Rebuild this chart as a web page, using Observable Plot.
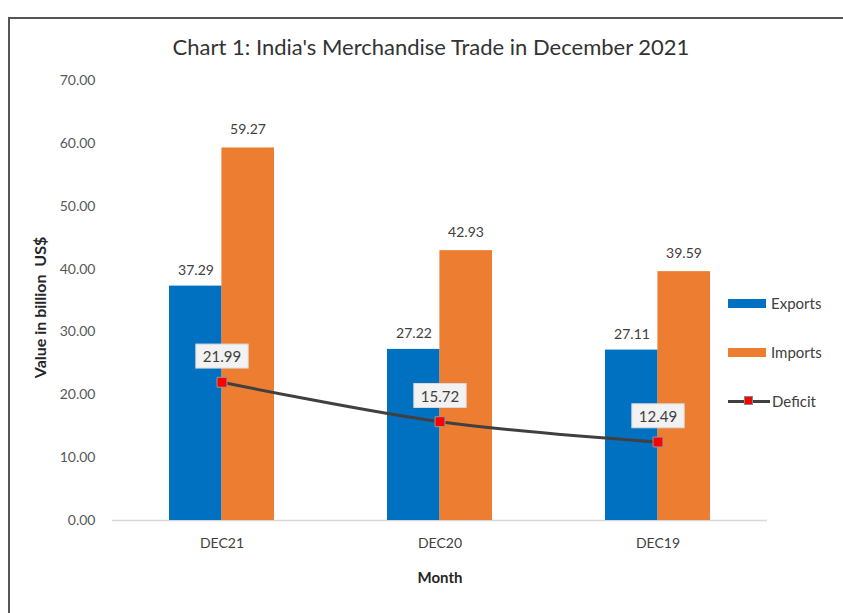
<!DOCTYPE html>
<html>
<head>
<meta charset="utf-8">
<script src="https://cdn.jsdelivr.net/npm/d3@7"></script>
<script src="https://cdn.jsdelivr.net/npm/@observablehq/plot@0.6"></script>
<style>
  html, body { margin: 0; padding: 0; background: #fff; }
  #wrap { position: relative; width: 843px; height: 613px; overflow: hidden; font-family: Lato, "Open Sans", sans-serif; }
  #frame { position: absolute; left: 8px; top: 17px; width: 900px; height: 700px; border-top: 2px solid #555; border-left: 2px solid #555; box-sizing: border-box; }
  #title { position: absolute; left: 0; width: 862px; top: 33px; text-align: center; font-size: 22px; color: #333; }
  #chart { position: absolute; left: 0; top: 0; }
  #legend { position: absolute; left: 728px; top: 293px; font-size: 15px; color: #404040; }
  .li { display: flex; align-items: center; height: 20px; margin-bottom: 29px; }
  .sw { width: 38px; height: 9px; margin-right: 5px; }
  .ln { position: relative; width: 42px; height: 3px; background: #404040; margin-right: 2px; }
  .ln span { position: absolute; left: 16px; top: -4px; width: 9px; height: 9px; background: #ff0000; border: 1px solid #888; box-sizing: border-box; }
</style>
</head>
<body>
<div id="wrap">
  <div id="frame"></div>
  <div id="chart"></div>
  <div id="title">Chart 1: India's Merchandise Trade in December 2021</div>
  <div id="legend"></div>
</div>
<script>
const months = ["DEC21", "DEC20", "DEC19"];
const exportsVals = [37.29, 27.22, 27.11];
const importsVals = [59.27, 42.93, 39.59];
const deficitVals = [21.99, 15.72, 12.49];
const yTicks = [0, 10, 20, 30, 40, 50, 60, 70];
const seriesNames = ["Exports", "Imports", "Deficit"];
const colors = { Exports: "#0070C0", Imports: "#ED7D31", Deficit: "#404040" };

const data = months.map((m, i) => ({ month: m, exports: exportsVals[i], imports: importsVals[i], deficit: deficitVals[i] }));
const fmt = d3.format(".2f");
const defLabels = deficitVals.map(fmt);

const plot = Plot.plot({
  width: 843,
  height: 613,
  marginLeft: 112,
  marginRight: 76,
  marginTop: 80,
  marginBottom: 93,
  style: { fontFamily: "Lato, 'Open Sans', sans-serif", background: "transparent" },
  x: { domain: months, paddingInner: 0.52, paddingOuter: 0.26, label: null },
  y: { domain: [0, 70], label: null },
  marks: [
    Plot.ruleY([0], { stroke: "#d9d9d9", strokeWidth: 1.5 }),
    Plot.barY(data, { x: "month", y: "exports", fill: colors.Exports, insetRight: 52.4 }),
    Plot.barY(data, { x: "month", y: "imports", fill: colors.Imports, insetLeft: 52.4 }),
    Plot.text(data, { x: "month", y: "exports", text: d => fmt(d.exports), dx: -26, dy: -16, fontSize: 14, fill: "#404040" }),
    Plot.text(data, { x: "month", y: "imports", text: d => fmt(d.imports), dx: 26, dy: -18, fontSize: 14, fill: "#404040" }),
    Plot.line(data, { x: "month", y: "deficit", stroke: colors.Deficit, strokeWidth: 3, curve: "catmull-rom" }),
    Plot.dot(data, { x: "month", y: "deficit", symbol: "square", r: 5.6, fill: "#ff0000", stroke: "#999", strokeWidth: 1 }),
    Plot.text(data, { x: "month", y: "deficit", text: d => fmt(d.deficit), dy: -25, fontSize: 15, fill: "#404040" }),
    Plot.axisY({ ticks: yTicks, tickFormat: fmt, tickSize: 0, tickPadding: 17, fontSize: 14, color: "#595959", label: null }),
    Plot.axisX({ tickSize: 0, tickPadding: 18, fontSize: 14, color: "#404040", label: null }),
    Plot.text(["Month"], { frameAnchor: "bottom", dy: 62, fontSize: 15, fontWeight: "bold", fill: "#262626" }),
    Plot.text(["Value in billion  US$"], { frameAnchor: "left", textAnchor: "middle", dx: -72, dy: 7, rotate: -90, fontSize: 16, fontWeight: "bold", fill: "#262626" })
  ]
});
document.getElementById("chart").appendChild(plot);

// boxes behind deficit labels (sized from the rendered text)
d3.select(plot).selectAll("text")
  .filter(function() { return defLabels.includes(this.textContent) && !this.closest("[aria-label='y-axis tick label']"); })
  .each(function() {
    const b = this.getBBox();
    const r = document.createElementNS("http://www.w3.org/2000/svg", "rect");
    r.setAttribute("x", b.x - 7); r.setAttribute("y", b.y - 3);
    r.setAttribute("width", b.width + 14); r.setAttribute("height", b.height + 6);
    r.setAttribute("fill", "#f2f2f2"); r.setAttribute("stroke", "#d9d9d9");
    const t = this.getAttribute("transform");
    if (t) r.setAttribute("transform", t);
    this.parentNode.insertBefore(r, this);
  });

const lg = d3.select("#legend");
seriesNames.forEach(name => {
  const row = lg.append("div").attr("class", "li");
  if (name === "Deficit") {
    row.append("div").attr("class", "ln").append("span");
  } else {
    row.append("div").attr("class", "sw").style("background", colors[name]);
  }
  row.append("div").text(name);
});
</script>
</body>
</html>
